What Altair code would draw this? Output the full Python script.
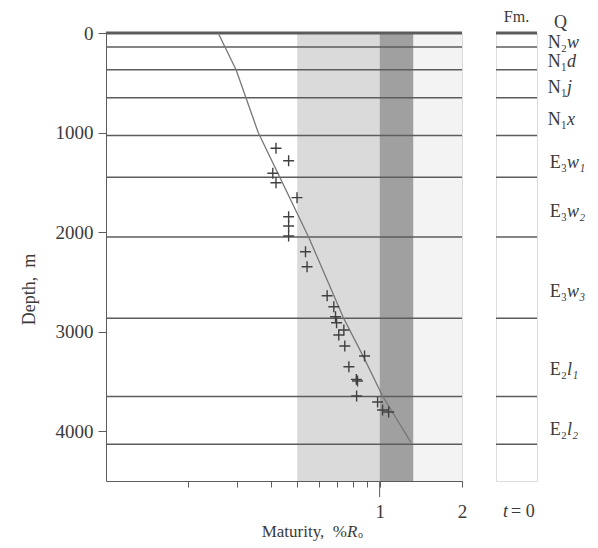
import altair as alt
import pandas as pd

# ---- data ----
boundary_depth = [0, 140, 370, 650, 1030, 1450, 2050, 2865, 3650, 4130]

fm_prefix = ["Q", "N\u2082", "N\u2081", "N\u2081", "N\u2081", "E\u2083", "E\u2083", "E\u2083", "E\u2082", "E\u2082"]
fm_suffix = ["", "w", "d", "j", "x", "w\u2081", "w\u2082", "w\u2083", "l\u2081", "l\u2082"]
fm_label_depth = [-105, 105, 295, 550, 875, 1305, 1800, 2600, 3385, 3990]

model_depth = [0, 372, 1000, 2049, 2863, 3256, 3646, 4110]
model_ro = [0.257, 0.299, 0.360, 0.550, 0.738, 0.874, 1.025, 1.30]

meas_ro = [0.418, 0.465, 0.407, 0.418, 0.499, 0.465, 0.465, 0.465, 0.536, 0.543,
           0.643, 0.680, 0.690, 0.696, 0.740, 0.709, 0.746, 0.881, 0.772, 0.822,
           0.830, 0.824, 0.983, 1.025, 1.079]
meas_depth = [1158, 1283, 1409, 1504, 1654, 1845, 1939, 2039, 2197, 2348,
              2639, 2749, 2850, 2910, 2983, 3034, 3144, 3245, 3352, 3479,
              3495, 3646, 3707, 3787, 3807]

band_lo = [0.5, 1.0, 1.33]
band_hi = [1.0, 1.33, 2.0]
band_name = ["oil", "peak", "gas"]
band_color = ["#dadada", "#a0a0a0", "#f3f3f3"]

x_minor_ticks = [0.2, 0.3, 0.4, 0.5, 0.6, 0.7, 0.8, 0.9, 1, 2]
y_ticks = [0, 1000, 2000, 3000, 4000]

# ---- layout constants ----
W, H = 356, 448
CW = 41
SERIF = "Liberation Serif"
LINE = "#5c5c5c"
TXT = "#3a3a3a"

xs = alt.Scale(type="log", domain=[0.1, 2], nice=False)
ys = alt.Scale(domain=[0, 4500], reverse=True, nice=False)

bands = pd.DataFrame({"lo": band_lo, "hi": band_hi, "name": band_name})
bnd = pd.DataFrame({"depth": boundary_depth})
model = pd.DataFrame({"ro": model_ro, "depth": model_depth, "i": range(len(model_ro))})
meas = pd.DataFrame({"ro": meas_ro, "depth": meas_depth})
fm = pd.DataFrame({"pre": fm_prefix, "suf": fm_suffix, "depth": fm_label_depth})

xaxis = alt.Axis(values=x_minor_ticks, tickSize=6, labelPadding=15,
                 labelExpr="(datum.value == 1 || datum.value == 2) ? datum.label : ''",
                 labelFont=SERIF, labelFontSize=19, labelColor=TXT, title=None,
                 domainColor=LINE, tickColor=LINE, grid=False, labelFlush=False)
yaxis = alt.Axis(values=y_ticks, format="d", tickSize=8, labelPadding=5, labelFont=SERIF,
                 labelFontSize=19, labelColor=TXT, title="Depth,\u2002m",
                 titleFont=SERIF, titleFontSize=18, titleFontWeight="normal",
                 titleColor=TXT, titlePadding=17, titleY=256,
                 domainColor=LINE, tickColor=LINE, grid=False)

band_layer = alt.Chart(bands).mark_rect().encode(
    x=alt.X("lo:Q", scale=xs, axis=xaxis),
    x2="hi:Q",
    y=alt.datum(0, scale=ys, axis=yaxis),
    y2=alt.datum(4500),
    color=alt.Color("name:N", scale=alt.Scale(domain=band_name, range=band_color), legend=None),
)

rules = alt.Chart(bnd).mark_rule(color=LINE, strokeWidth=1.5).encode(
    y=alt.Y("depth:Q", scale=ys))
top_rule = alt.Chart(bnd).transform_filter("datum.depth == 0").mark_rule(
    color=LINE, strokeWidth=3).encode(y=alt.Y("depth:Q", scale=ys))

model_line = alt.Chart(model).mark_line(color="#777777", strokeWidth=1.3).encode(
    x=alt.X("ro:Q", scale=xs), y=alt.Y("depth:Q", scale=ys), order="i:Q")

pts = alt.Chart(meas).mark_point(shape="M-1,0L1,0M0,-1L0,1", size=120, filled=False,
                                 color="#404040", strokeWidth=1.4, opacity=1).encode(
    x=alt.X("ro:Q", scale=xs), y=alt.Y("depth:Q", scale=ys))

major_tick = alt.Chart(pd.DataFrame({"v": [1]})).mark_rule(color=LINE, strokeWidth=1).encode(
    x=alt.X("v:Q", scale=xs), y=alt.value(H), y2=alt.value(H + 16))

title_df = pd.DataFrame({"a": ["Maturity,\u2002%"], "b": ["R"], "c": ["o"]})
t1 = alt.Chart(title_df).mark_text(font=SERIF, fontSize=17, align="right", baseline="middle",
                                   color=TXT).encode(text="a:N", x=alt.value(241), y=alt.value(H + 51))
t2 = alt.Chart(title_df).mark_text(font=SERIF, fontSize=17, fontStyle="italic", align="left",
                                   baseline="middle", color=TXT).encode(
    text="b:N", x=alt.value(241), y=alt.value(H + 51))
t3 = alt.Chart(title_df).mark_text(font=SERIF, fontSize=10, align="left", baseline="middle",
                                   color=TXT).encode(text="c:N", x=alt.value(252), y=alt.value(H + 54))

main = alt.layer(band_layer, rules, top_rule, model_line, pts, major_tick, t1, t2, t3).properties(
    width=W, height=H)

# ---- formation column ----
col_rules = alt.Chart(bnd).mark_rule(color=LINE, strokeWidth=1.5).encode(
    y=alt.Y("depth:Q", scale=ys, axis=None), x=alt.value(0), x2=alt.value(CW))
col_top = alt.Chart(bnd).transform_filter("datum.depth == 0").mark_rule(
    color=LINE, strokeWidth=3).encode(y=alt.Y("depth:Q", scale=ys), x=alt.value(0), x2=alt.value(CW))
pre = alt.Chart(fm).mark_text(font=SERIF, fontSize=18, align="right", baseline="middle",
                              color=TXT).encode(text="pre:N", y=alt.Y("depth:Q", scale=ys),
                                                x=alt.value(71))
suf = alt.Chart(fm).mark_text(font=SERIF, fontSize=18, fontStyle="italic", align="left",
                              baseline="middle", color=TXT).encode(
    text="suf:N", y=alt.Y("depth:Q", scale=ys), x=alt.value(71))
head_df = pd.DataFrame({"fm": ["Fm."], "t": ["t"], "eq": ["= 0"]})
fm_head = alt.Chart(head_df).mark_text(font=SERIF, fontSize=16, align="center", baseline="middle",
                                       color=TXT).encode(text="fm:N", x=alt.value(CW / 2), y=alt.value(-16))
t_it = alt.Chart(head_df).mark_text(font=SERIF, fontSize=18, fontStyle="italic", align="right",
                                    baseline="middle", color=TXT).encode(
    text="t:N", x=alt.value(12), y=alt.value(H + 31))
t_eq = alt.Chart(head_df).mark_text(font=SERIF, fontSize=18, align="left", baseline="middle",
                                    color=TXT).encode(text="eq:N", x=alt.value(15), y=alt.value(H + 31))

column = alt.layer(col_rules, col_top, pre, suf, fm_head, t_it, t_eq).properties(width=CW, height=H)

chart = alt.hconcat(main, column, spacing=26).properties(
    padding={"left": 11, "top": 0, "right": 0, "bottom": 0}
).configure_view(stroke=LINE, strokeWidth=1.2).configure(background="white")

chart.save("out.html", embed_options={"renderer": "svg", "actions": False})
